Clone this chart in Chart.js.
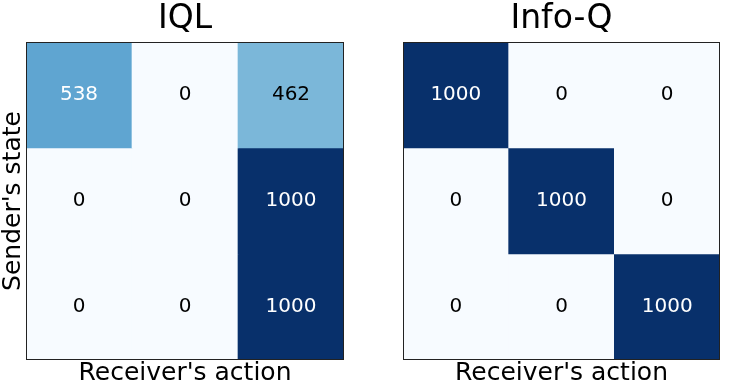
<!DOCTYPE html>
<html>
<head>
<meta charset="utf-8">
<script src="https://cdn.jsdelivr.net/npm/chart.js@4"></script>
<style>
  html, body { margin: 0; padding: 0; background: #fff; }
  #wrap { position: relative; width: 747px; height: 386px; }
  .box { position: absolute; top: 0; width: 373px; height: 386px; }
  #boxL { left: 0; }
  #boxR { left: 374px; }
</style>
</head>
<body>
<div id="wrap">
  <div class="box" id="boxL"><canvas id="chartL"></canvas></div>
  <div class="box" id="boxR"><canvas id="chartR"></canvas></div>
</div>
<script>
const FONT = "'DejaVu Sans', sans-serif";

const actions = ['0', '1', '2'];
const states = ['0', '1', '2'];

// rows = sender's state, cols = receiver's action
const iqlCounts = [
  [538, 0, 462],
  [0, 0, 1000],
  [0, 0, 1000]
];
const infoQCounts = [
  [1000, 0, 0],
  [0, 1000, 0],
  [0, 0, 1000]
];

const V_MAX = 1000;

// matplotlib "Blues" colormap stops
const BLUES = ['#f7fbff', '#deebf7', '#c6dbef', '#9ecae1', '#6baed6', '#4292c6', '#2171b5', '#08519c', '#08306b'];

function hexRgb(h) {
  return [parseInt(h.slice(1, 3), 16), parseInt(h.slice(3, 5), 16), parseInt(h.slice(5, 7), 16)];
}

function blues(v) {
  const t = Math.max(0, Math.min(1, v / V_MAX)) * (BLUES.length - 1);
  const i = Math.min(Math.floor(t), BLUES.length - 2);
  const f = t - i;
  const a = hexRgb(BLUES[i]), b = hexRgb(BLUES[i + 1]);
  const c = a.map((x, k) => Math.round(x + (b[k] - x) * f));
  return `rgb(${c[0]},${c[1]},${c[2]})`;
}

// draw counts in the middle of each cell
const cellLabels = {
  id: 'cellLabels',
  afterDatasetsDraw(chart) {
    const { ctx } = chart;
    ctx.save();
    ctx.font = `20px ${FONT}`;
    ctx.textAlign = 'center';
    ctx.textBaseline = 'middle';
    chart.data.datasets.forEach((ds, di) => {
      chart.getDatasetMeta(di).data.forEach((bar, j) => {
        const val = ds.counts[j];
        const p = bar.getCenterPoint();
        ctx.fillStyle = val > V_MAX / 2 ? '#fff' : '#000';
        ctx.fillText(String(val), p.x, p.y);
      });
    });
    ctx.restore();
  }
};

// dark frame round the plot area
const frame = {
  id: 'frame',
  afterDraw(chart) {
    const { ctx, chartArea: a } = chart;
    ctx.save();
    ctx.strokeStyle = '#222';
    ctx.lineWidth = 1;
    ctx.strokeRect(Math.round(a.left) + 0.5, Math.round(a.top) + 0.5, Math.round(a.right - a.left) - 1, Math.round(a.bottom - a.top) - 1);
    ctx.restore();
  }
};

function makeChart(id, title, counts, showY, yWidth, padRight) {
  const datasets = states.map((s, i) => ({
    label: s,
    data: actions.map(() => 1),
    counts: counts[i],
    backgroundColor: counts[i].map(blues),
    borderWidth: 0,
    barPercentage: 1,
    categoryPercentage: 1
  }));

  return new Chart(document.getElementById(id), {
    type: 'bar',
    data: { labels: actions, datasets },
    options: {
      animation: false,
      responsive: true,
      maintainAspectRatio: false,
      layout: { padding: { top: 0, right: padRight, bottom: 0, left: 0 } },
      plugins: {
        legend: { display: false },
        tooltip: { enabled: false },
        title: {
          display: true,
          fullSize: false,
          text: title,
          color: '#000',
          font: { family: FONT, size: 33, weight: 'normal', lineHeight: 1 },
          padding: { top: 3, bottom: 6 }
        }
      },
      scales: {
        x: {
          stacked: true,
          grid: { display: false },
          border: { display: false },
          ticks: { display: false },
          title: {
            display: true,
            text: "Receiver's action",
            color: '#000',
            font: { family: FONT, size: 25, lineHeight: 1 },
            padding: { top: 1, bottom: 0 }
          },
          afterFit(scale) { scale.height = 26; }
        },
        y: {
          stacked: true,
          reverse: true,
          min: 0,
          max: 3,
          grid: { display: false },
          border: { display: false },
          ticks: { display: false },
          title: {
            display: showY,
            text: "Sender's state",
            color: '#000',
            font: { family: FONT, size: 25, lineHeight: 1 },
            padding: { top: 1, bottom: 0 }
          },
          afterFit(scale) { scale.width = yWidth; }
        }
      }
    },
    plugins: [cellLabels, frame]
  });
}

makeChart('chartL', 'IQL', iqlCounts, true, 26, 29);
makeChart('chartR', 'Info-Q', infoQCounts, false, 29, 27);
</script>
</body>
</html>
